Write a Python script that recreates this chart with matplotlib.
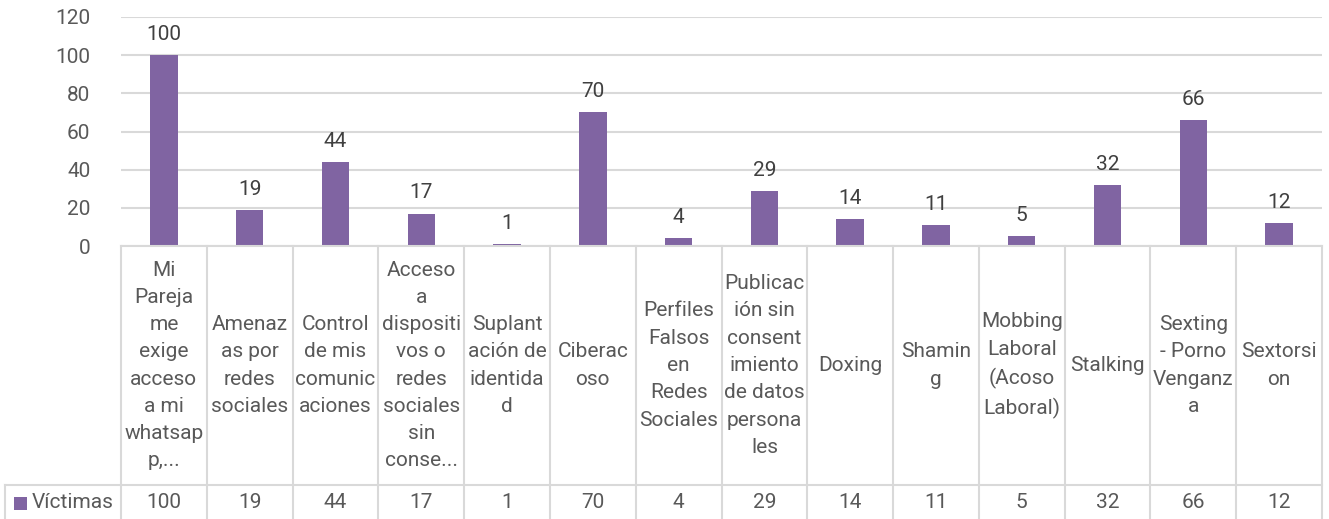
import matplotlib
matplotlib.use("Agg")
import matplotlib.pyplot as plt
from matplotlib.transforms import blended_transform_factory
from matplotlib.patches import Rectangle

categories = [
    "Mi\nPareja\nme\nexige\nacceso\na mi\nwhatsap\np,...",
    "Amenaz\nas por\nredes\nsociales",
    "Control\nde mis\ncomunic\naciones",
    "Acceso\na\ndispositi\nvos o\nredes\nsociales\nsin\nconse...",
    "Suplant\nación de\nidentida\nd",
    "Ciberac\noso",
    "Perfiles\nFalsos\nen\nRedes\nSociales",
    "Publicac\nión sin\nconsent\nimiento\nde datos\npersona\nles",
    "Doxing",
    "Shamin\ng",
    "Mobbing\nLaboral\n(Acoso\nLaboral)",
    "Stalking",
    "Sexting\n- Porno\nVenganz\na",
    "Sextorsi\non",
]
victimas = [100, 19, 44, 17, 1, 70, 4, 29, 14, 11, 5, 32, 66, 12]
series_name = "Víctimas"
yticks = [0, 20, 40, 60, 80, 100, 120]

plt.rcParams['font.family'] = ['Roboto', 'DejaVu Sans']

W, H = 1329, 519
fig = plt.figure(figsize=(W / 100, H / 100), dpi=100)
fig.patch.set_facecolor("white")

ax_left, ax_right, ax_top, ax_bot = 121, 1322, 17, 246
ax = fig.add_axes([ax_left / W, 1 - ax_bot / H, (ax_right - ax_left) / W, (ax_bot - ax_top) / H])

bar_color = "#8064A2"
grid_color = "#D9D9D9"
text_color = "#595959"
label_color = "#404040"
fs = 15

n = len(categories)
x = list(range(n))
ax.bar(x, victimas, width=0.32, color=bar_color, zorder=3)
for xi, v in zip(x, victimas):
    ax.annotate(str(v), (xi, v), xytext=(0, 8), textcoords="offset points",
                ha="center", va="bottom", fontsize=fs, color=label_color)

ax.set_xlim(-0.5, n - 0.5)
ax.set_ylim(0, 120)
ax.set_yticks(yticks)
ax.set_yticklabels([str(t) for t in yticks], fontsize=fs, color=text_color)
ax.tick_params(axis="y", length=0, pad=22)
ax.set_xticks([])
ax.yaxis.grid(True, color=grid_color, linewidth=1.5, zorder=0)
for s in ["top", "right", "left", "bottom"]:
    ax.spines[s].set_visible(False)

# Data table
tr = blended_transform_factory(ax.transData, fig.transFigure)
ftr = fig.transFigure
y_top = 1 - 246 / H
y_mid = 1 - 485 / H
y_bot = 0.0
lw = 1.5

fig.add_artist(plt.Line2D([ax_left / W, ax_right / W], [y_top, y_top], transform=ftr,
                          color=grid_color, lw=lw))
fig.add_artist(plt.Line2D([5 / W, ax_right / W], [y_mid, y_mid], transform=ftr,
                          color=grid_color, lw=lw))
for i in range(n + 1):
    fig.add_artist(plt.Line2D([i - 0.5, i - 0.5], [y_bot, y_top], transform=tr,
                              color=grid_color, lw=lw))
fig.add_artist(plt.Line2D([5 / W, 5 / W], [y_bot, y_mid], transform=ftr,
                          color=grid_color, lw=lw))

hdr_center = 1 - 365.5 / H
row_center = 1 - 503 / H
for xi, cat, v in zip(x, categories, victimas):
    fig.text(xi, hdr_center, cat, transform=tr, ha="center", va="center",
             fontsize=fs, color=text_color, linespacing=1.55)
    fig.text(xi, row_center, str(v), transform=tr, ha="center", va="center",
             fontsize=fs, color=text_color)

fig.add_artist(Rectangle((14 / W, 1 - 510 / H), 13 / W, 13 / H, transform=ftr,
                         facecolor=bar_color, edgecolor="none"))
fig.text(32 / W, row_center, series_name, transform=ftr, ha="left", va="center",
         fontsize=fs, color=text_color)

fig.savefig("out.png", dpi=100, facecolor="white")
